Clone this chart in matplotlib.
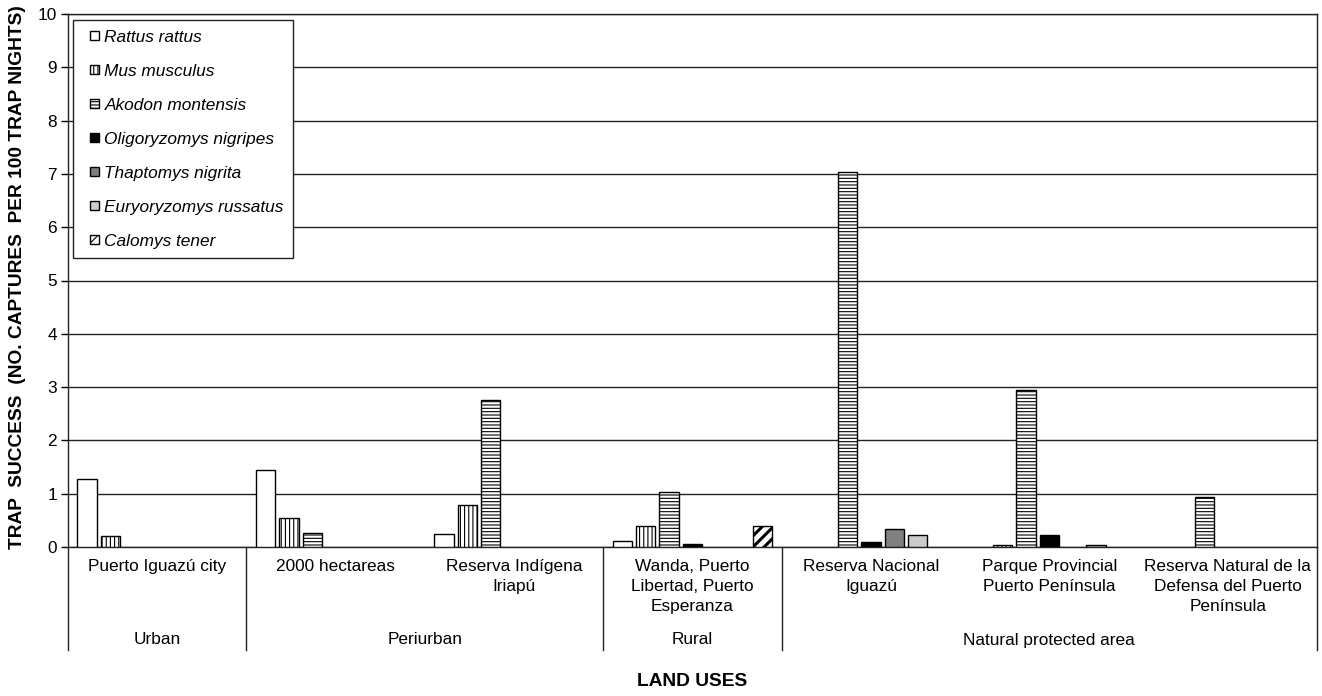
import numpy as np
import matplotlib
matplotlib.use("Agg")
import matplotlib.pyplot as plt
from matplotlib.patches import Rectangle
from matplotlib.legend_handler import HandlerPatch
from matplotlib.lines import Line2D

# ---------------- data ----------------
sites = ["Puerto Iguazú city", "2000 hectareas", "Reserva Indígena\nIriapú",
         "Wanda, Puerto\nLibertad, Puerto\nEsperanza", "Reserva Nacional\nIguazú",
         "Parque Provincial\nPuerto Península",
         "Reserva Natural de la\nDefensa del Puerto\nPenínsula"]
land_uses = ["Urban", "Periurban", "Rural", "Natural protected area"]
land_use_span = [(0, 0), (1, 2), (3, 3), (4, 6)]   # first/last site index

species = ["Rattus rattus", "Mus musculus", "Akodon montensis",
           "Oligoryzomys nigripes", "Thaptomys nigrita",
           "Euryoryzomys russatus", "Calomys tener"]

rattus_rattus        = [1.28, 1.44, 0.25, 0.11, 0.00, 0.00, 0.00]
mus_musculus         = [0.20, 0.55, 0.78, 0.39, 0.00, 0.03, 0.00]
akodon_montensis     = [0.00, 0.27, 2.76, 1.03, 7.03, 2.95, 0.94]
oligoryzomys_nigripes = [0.00, 0.00, 0.00, 0.05, 0.09, 0.22, 0.00]
thaptomys_nigrita    = [0.00, 0.00, 0.00, 0.00, 0.33, 0.00, 0.00]
euryoryzomys_russatus = [0.00, 0.00, 0.00, 0.00, 0.22, 0.03, 0.00]
calomys_tener        = [0.00, 0.00, 0.00, 0.39, 0.00, 0.00, 0.00]

series = [rattus_rattus, mus_musculus, akodon_montensis, oligoryzomys_nigripes,
          thaptomys_nigrita, euryoryzomys_russatus, calomys_tener]

yticks = list(range(0, 11))

# ---------------- styles ----------------
styles = [
    dict(facecolor="white", hatch=None),
    dict(facecolor="white", hatch="||||"),
    dict(facecolor="white", hatch="-----"),
    dict(facecolor="black", hatch=None),
    dict(facecolor="#808080", hatch=None),
    dict(facecolor="#cccccc", hatch=None),
    dict(facecolor="white", hatch="///"),
]
hatch_lw = [0.8, 0.8, 0.8, 0.8, 0.8, 0.8, 2.2]

plt.rcParams["font.family"] = ["Liberation Sans", "DejaVu Sans"]
plt.rcParams["hatch.linewidth"] = 0.8
FS = 12.4
FS_TITLE = 13.8

W, H = 1322, 696
fig = plt.figure(figsize=(W / 100, H / 100), dpi=100)
ax_l, ax_r, ax_t, ax_b = 68, 1317, 14, 547
ax = fig.add_axes([ax_l / W, (H - ax_b) / H, (ax_r - ax_l) / W, (ax_b - ax_t) / H])

x = np.arange(len(sites))
step = 0.131
width = 0.109
handles = []
for i, (vals, st) in enumerate(zip(series, styles)):
    off = (i - 3) * step
    vals = np.asarray(vals, dtype=float)
    shown = np.where(vals > 0, vals, np.nan)
    bars = ax.bar(x + off, shown, width=width, facecolor=st["facecolor"],
                  edgecolor="black", linewidth=1.0, hatch=st["hatch"], zorder=3)
    for b in bars:
        if hasattr(b, "set_hatch_linewidth"):
            b.set_hatch_linewidth(hatch_lw[i])
    h = Rectangle((0, 0), 1, 1, facecolor=st["facecolor"], edgecolor="black",
                  linewidth=1.0, hatch=st["hatch"])
    if hasattr(h, "set_hatch_linewidth"):
        h.set_hatch_linewidth(hatch_lw[i] * 0.8)
    handles.append(h)

ax.set_xlim(-0.5, len(sites) - 0.5)
ax.set_ylim(0, 10)
ax.set_yticks(yticks)
ax.set_yticklabels([str(t) for t in yticks], fontsize=FS)
ax.tick_params(axis="y", direction="out", length=5, width=1, pad=3)
ax.set_xticks([])
ax.yaxis.grid(True, color="#222222", linewidth=1.0, zorder=0)
ax.set_axisbelow(True)
for s in ax.spines.values():
    s.set_color("#222222")
    s.set_linewidth(1.0)

# legend
def small_square(legend, orig_handle, xdescent, ydescent, width, height, fontsize):
    size = 9 * 72 / 100  # points
    return Rectangle((width - xdescent - size, -ydescent + (height - size) / 2),
                     size, size)

leg = ax.legend(handles, species, loc="upper left",
                bbox_to_anchor=((72.5 - ax_l) / (ax_r - ax_l), (ax_b - 20) / (ax_b - ax_t)),
                borderaxespad=0, fancybox=False, framealpha=1, edgecolor="#222222",
                prop=dict(size=FS, style="italic"), handlelength=1.0, handleheight=0.7,
                handletextpad=0.3, labelspacing=1.1, borderpad=0.55,
                handler_map={Rectangle: HandlerPatch(patch_func=small_square)})
leg.get_frame().set_linewidth(1.0)
leg.set_zorder(5)

# multi-level category axis
def ypix(p):
    return (ax_b - p) / (ax_b - ax_t)

trans = ax.get_xaxis_transform()
for i, s in enumerate(sites):
    ax.text(i, ypix(559), s, transform=trans, ha="center", va="top",
            fontsize=FS, linespacing=1.43, multialignment="center", clip_on=False)
for name, (a, b) in zip(land_uses, land_use_span):
    ax.text((a + b) / 2, ypix(640), name, transform=trans, ha="center",
            va="center", fontsize=FS, clip_on=False)
dividers = [-0.5] + [b + 0.5 for (a, b) in land_use_span]
for d in dividers:
    ax.add_line(Line2D([d, d], [0, ypix(650)], transform=trans, color="#222222",
                       linewidth=1.0, clip_on=False))

fig.text((ax_l + ax_r) / 2 / W, (H - 681) / H, "LAND USES", ha="center",
         va="center", fontsize=FS_TITLE, fontweight="bold")
fig.text(18 / W, (H - 277) / H,
         "TRAP  SUCCESS  (NO. CAPTURES  PER 100 TRAP NIGHTS)",
         rotation=90, ha="center", va="center", fontsize=FS_TITLE, fontweight="bold")

fig.savefig("out.png", dpi=100, facecolor="white")
